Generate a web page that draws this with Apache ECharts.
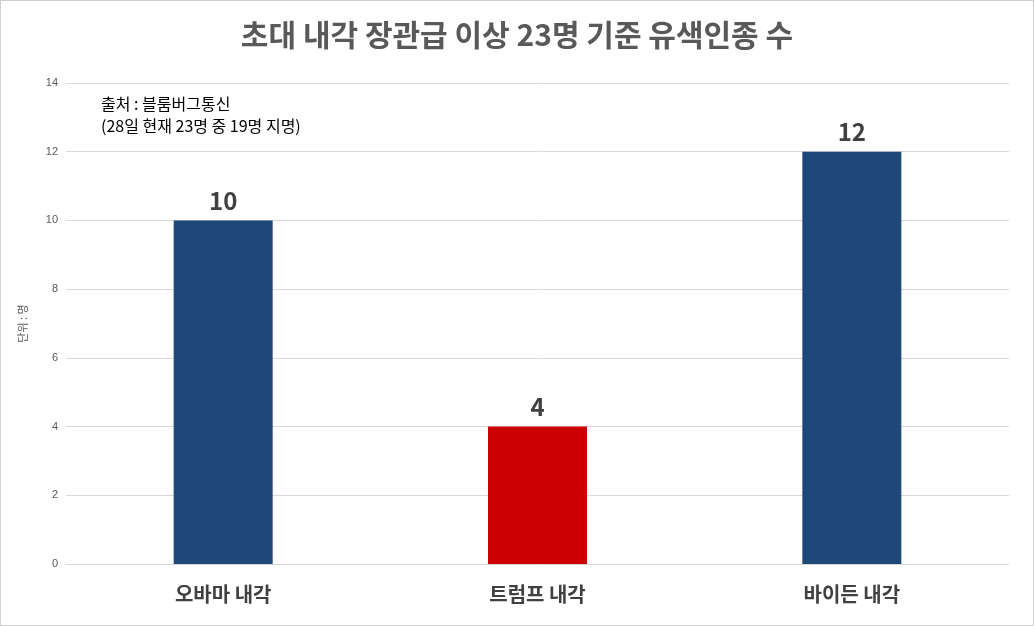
<!DOCTYPE html><html><head><meta charset="utf-8"><script src="https://cdn.jsdelivr.net/npm/echarts@6/dist/echarts.min.js"></script>
<style>body{margin:0}#c{width:1034px;height:626px;box-sizing:border-box;border:1px solid #d0d0d0}</style></head><body><div id="c"></div><script>
const categories=['오바마 내각','트럼프 내각','바이든 내각'];
const values=[10,4,12];
const colors=['#1f4778','#cc0000','#1f4778'];
const F='"Noto Sans CJK KR", sans-serif';
const ch=echarts.init(document.getElementById('c'));
ch.setOption({
title:{text:'초대 내각 장관급 이상 23명 기준 유색인종 수',left:'center',top:14,textStyle:{fontFamily:F,fontSize:30,fontWeight:'bold',color:'#595959'}},
graphic:[{type:'text',left:100,top:92,style:{text:'출처 : 블룸버그통신\n(28일 현재 23명 중 19명 지명)',font:'16px '+F,fill:'#000',lineHeight:22}}],
grid:{left:65,right:24,top:82,bottom:61},
xAxis:{type:'category',data:categories,axisTick:{show:false},axisLine:{lineStyle:{color:'#d9d9d9'}},axisLabel:{fontFamily:F,fontSize:20,fontWeight:'bold',color:'#404040',margin:20}},
yAxis:{type:'value',min:0,max:14,interval:2,name:'단위 : 명',nameLocation:'middle',nameGap:38,nameRotate:90,nameTextStyle:{fontFamily:F,fontSize:11,color:'#595959'},axisLabel:{fontSize:11,color:'#595959'},splitLine:{lineStyle:{color:'#d9d9d9'}}},
series:[{type:'bar',barWidth:99,data:values.map((v,i)=>({value:v,itemStyle:{color:colors[i]}})),label:{show:true,position:'top',fontFamily:F,fontSize:24,fontWeight:'bold',color:'#404040',distance:8}}]
});
</script></body></html>
